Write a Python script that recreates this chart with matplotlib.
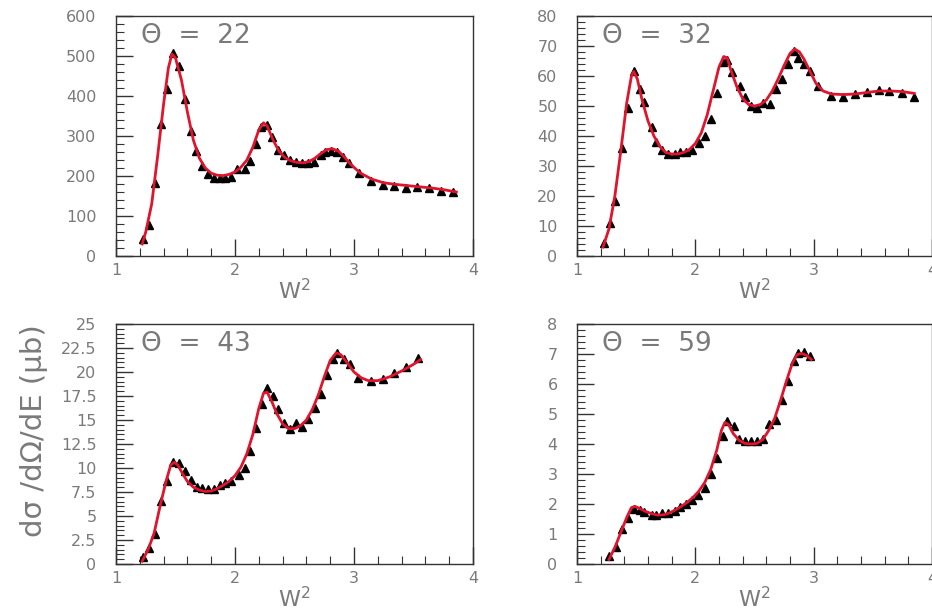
import matplotlib.pyplot as plt
from matplotlib.ticker import MultipleLocator, FormatStrFormatter

plt.rcParams['font.family'] = ['DejaVu Sans']

# theta = 22
w2_22 = [1.23, 1.28, 1.33, 1.38, 1.43, 1.48, 1.53, 1.58, 1.63, 1.67, 1.72, 1.77, 1.82, 1.87,
         1.92, 1.97, 2.02, 2.08, 2.13, 2.18, 2.22, 2.27, 2.31, 2.36, 2.41, 2.46, 2.51, 2.56,
         2.61, 2.66, 2.72, 2.76, 2.81, 2.86, 2.91, 2.96, 3.04, 3.14, 3.24, 3.34, 3.44, 3.53,
         3.63, 3.73, 3.83]
xs_22 = [42, 78, 182, 330, 417, 507, 476, 392, 312, 262, 225, 205, 194, 194,
         196, 198, 217, 217, 237, 279, 323, 327, 298, 265, 252, 240, 236, 233,
         233, 236, 252, 261, 262, 261, 248, 232, 208, 188, 178, 175, 171, 173,
         171, 162, 161]
fit_w2_22 = [1.22, 1.25, 1.30, 1.35, 1.40, 1.44, 1.47, 1.50, 1.55, 1.60, 1.65, 1.70, 1.75, 1.80,
             1.85, 1.90, 1.95, 2.00, 2.05, 2.10, 2.15, 2.20, 2.24, 2.27, 2.32, 2.37, 2.42, 2.47,
             2.52, 2.57, 2.62, 2.67, 2.72, 2.77, 2.82, 2.87, 2.92, 2.97, 3.05, 3.15, 3.25, 3.35,
             3.45, 3.55, 3.65, 3.75, 3.86]
fit_22 = [30, 60, 130, 250, 380, 470, 505, 495, 440, 360, 290, 245, 220, 207,
          202, 201, 204, 210, 222, 240, 272, 315, 333, 325, 290, 262, 246, 238,
          234, 233, 236, 244, 256, 266, 268, 262, 247, 230, 208, 192, 183, 179,
          176, 173, 170, 166, 160]

# theta = 32
w2_32 = [1.23, 1.28, 1.32, 1.38, 1.43, 1.48, 1.53, 1.57, 1.63, 1.67, 1.72, 1.77, 1.83, 1.87,
         1.92, 1.97, 2.03, 2.08, 2.13, 2.18, 2.23, 2.27, 2.31, 2.38, 2.42, 2.47, 2.52, 2.57,
         2.63, 2.68, 2.73, 2.78, 2.83, 2.87, 2.92, 2.97, 3.04, 3.15, 3.25, 3.35, 3.45, 3.55,
         3.64, 3.75, 3.85]
xs_32 = [4.4, 11.1, 18.3, 36.1, 49.2, 61.7, 55.8, 51.3, 42.9, 37.9, 35.3, 34.0, 34.0, 34.6,
         34.8, 35.3, 37.6, 40.0, 45.7, 54.4, 64.8, 65.3, 61.4, 56.7, 52.9, 50.0, 49.4, 50.9,
         50.6, 55.6, 59.0, 63.9, 68.4, 65.9, 64.0, 61.7, 56.7, 53.3, 52.9, 53.9, 54.6, 55.3,
         55.1, 54.2, 52.9]
fit_w2_32 = [1.22, 1.27, 1.32, 1.37, 1.42, 1.46, 1.48, 1.51, 1.55, 1.60, 1.65, 1.70, 1.75, 1.80,
             1.85, 1.90, 1.95, 2.00, 2.05, 2.10, 2.15, 2.20, 2.24, 2.27, 2.30, 2.35, 2.40, 2.45,
             2.50, 2.55, 2.60, 2.65, 2.70, 2.75, 2.80, 2.84, 2.88, 2.92, 2.97, 3.02, 3.08, 3.15,
             3.25, 3.35, 3.45, 3.55, 3.65, 3.75, 3.85]
fit_32 = [3, 9, 20, 35, 51, 60, 61.5, 59, 52, 45, 40, 36.5, 34.5, 34,
          34, 34.5, 35.5, 37.5, 41, 47, 55, 63, 66.5, 66, 62, 56.5, 52.5, 50.5,
          50, 50.5, 52, 55, 59, 63.5, 67.5, 69, 68, 65.5, 61.5, 57.5, 55, 54,
          53.8, 54, 54.5, 55, 55, 54.8, 54.2]

# theta = 43
w2_43 = [1.23, 1.28, 1.33, 1.38, 1.43, 1.48, 1.53, 1.58, 1.63, 1.68, 1.72, 1.77, 1.82, 1.87,
         1.92, 1.97, 2.03, 2.08, 2.13, 2.18, 2.23, 2.27, 2.32, 2.36, 2.41, 2.46, 2.51, 2.56,
         2.61, 2.67, 2.72, 2.77, 2.82, 2.86, 2.92, 2.97, 3.03, 3.14, 3.24, 3.34, 3.44, 3.54]
xs_43 = [0.73, 1.67, 3.16, 6.60, 8.61, 10.59, 10.52, 9.65, 8.72, 7.99, 7.92, 7.85, 7.85, 8.26,
         8.44, 8.68, 9.24, 10.0, 11.8, 14.2, 16.7, 18.3, 17.5, 16.1, 14.7, 14.1, 14.7, 14.3,
         15.1, 16.25, 17.7, 19.65, 21.4, 22.0, 21.35, 20.8, 19.4, 19.1, 19.3, 19.9, 20.5, 21.5]
fit_w2_43 = [1.22, 1.27, 1.32, 1.37, 1.42, 1.46, 1.49, 1.52, 1.56, 1.60, 1.65, 1.70, 1.75, 1.80,
             1.85, 1.90, 1.95, 2.00, 2.05, 2.10, 2.15, 2.20, 2.24, 2.27, 2.31, 2.35, 2.40, 2.45,
             2.50, 2.55, 2.60, 2.65, 2.70, 2.75, 2.80, 2.85, 2.89, 2.94, 3.00, 3.06, 3.12, 3.20,
             3.30, 3.40, 3.50, 3.56]
fit_43 = [0.3, 1.5, 3.2, 6.0, 8.6, 10.3, 10.6, 10.3, 9.4, 8.6, 8.0, 7.7, 7.55, 7.6,
          7.85, 8.2, 8.6, 9.2, 10.1, 11.5, 13.5, 16.2, 17.8, 17.9, 16.9, 15.7, 14.6, 14.1,
          14.1, 14.4, 15.0, 16.1, 17.6, 19.5, 21.2, 22.0, 21.8, 21.0, 20.0, 19.4, 19.1, 19.1,
          19.5, 20.1, 20.8, 21.3]

# theta = 59
w2_59 = [1.27, 1.33, 1.38, 1.43, 1.48, 1.53, 1.57, 1.63, 1.67, 1.72, 1.77, 1.83, 1.87, 1.92,
         1.97, 2.02, 2.08, 2.13, 2.18, 2.23, 2.27, 2.33, 2.37, 2.42, 2.47, 2.52, 2.57, 2.62,
         2.68, 2.73, 2.78, 2.83, 2.87, 2.92, 2.97]
xs_59 = [0.26, 0.56, 1.17, 1.53, 1.83, 1.81, 1.73, 1.64, 1.64, 1.70, 1.70, 1.78, 1.90, 2.01,
         2.14, 2.31, 2.53, 3.01, 3.53, 4.26, 4.76, 4.59, 4.17, 4.09, 4.09, 4.09, 4.17, 4.68,
         4.81, 5.48, 6.09, 6.78, 7.03, 7.07, 6.92]
fit_w2_59 = [1.27, 1.32, 1.37, 1.42, 1.46, 1.49, 1.53, 1.58, 1.63, 1.68, 1.73, 1.78, 1.83, 1.88,
             1.93, 1.98, 2.03, 2.08, 2.13, 2.18, 2.22, 2.25, 2.28, 2.32, 2.37, 2.42, 2.47, 2.52,
             2.57, 2.62, 2.67, 2.72, 2.77, 2.82, 2.86, 2.90, 2.94, 2.98]
fit_59 = [0.15, 0.55, 1.05, 1.55, 1.88, 1.92, 1.85, 1.75, 1.68, 1.63, 1.64, 1.70, 1.80, 1.92,
          2.05, 2.22, 2.43, 2.72, 3.15, 3.78, 4.45, 4.72, 4.65, 4.35, 4.12, 4.02, 4.0, 4.02,
          4.15, 4.45, 4.85, 5.45, 6.1, 6.7, 6.98, 7.02, 6.95, 6.82]

panels = [
    ('22', w2_22, xs_22, fit_w2_22, fit_22, 600, 100, 20),
    ('32', w2_32, xs_32, fit_w2_32, fit_32, 80, 10, 2),
    ('43', w2_43, xs_43, fit_w2_43, fit_43, 25, 2.5, 0.5),
    ('59', w2_59, xs_59, fit_w2_59, fit_59, 8, 1, 0.2),
]

W, H = 932, 611
boxes = [(116, 16, 473, 256), (577, 16, 932, 256),
         (116, 324, 473, 564), (577, 324, 932, 564)]

grey = '#7a7a7a'
fig = plt.figure(figsize=(W / 100, H / 100), dpi=100)

for (theta, x, y, fx, fy, ymax, major, minor), (x0, y0, x1, y1) in zip(panels, boxes):
    ax = fig.add_axes([x0 / W, 1 - y1 / H, (x1 - x0) / W, (y1 - y0) / H])
    ax.plot(x, y, linestyle='none', marker='^', color='black', markersize=6, zorder=2)
    ax.plot(fx, fy, color='#e0142c', linewidth=2.0, zorder=3)
    ax.set_xlim(1, 4)
    ax.set_ylim(0, ymax)
    ax.xaxis.set_major_locator(MultipleLocator(1))
    ax.xaxis.set_minor_locator(MultipleLocator(0.2))
    ax.yaxis.set_major_locator(MultipleLocator(major))
    ax.yaxis.set_minor_locator(MultipleLocator(minor))
    ax.xaxis.set_major_formatter(FormatStrFormatter('%g'))
    ax.yaxis.set_major_formatter(FormatStrFormatter('%g'))
    ax.tick_params(which='both', direction='in', color='#333333', top=False, right=False)
    ax.tick_params(which='major', length=12, width=1)
    ax.tick_params(which='minor', length=6, width=0.8)
    ax.tick_params(axis='y', which='major', pad=14, labelsize=11.5, labelcolor=grey)
    ax.tick_params(axis='x', which='major', pad=5, labelsize=11.5, labelcolor=grey)
    for s in ax.spines.values():
        s.set_color('#333333')
        s.set_linewidth(1.0)
    ax.text(0.07, 0.97, '\u0398  =  ' + theta, transform=ax.transAxes, ha='left', va='top',
            fontsize=19, color=grey)
    ax.set_xlabel('W$^2$', fontsize=16, color=grey, labelpad=0)
    if theta == '43':
        ax.set_ylabel('d\u03c3 /d\u03a9/dE (\u03bcb)', fontsize=21, color=grey)
        ax.yaxis.set_label_coords(-0.19, 0.555)

fig.savefig('out.png', dpi=100)
